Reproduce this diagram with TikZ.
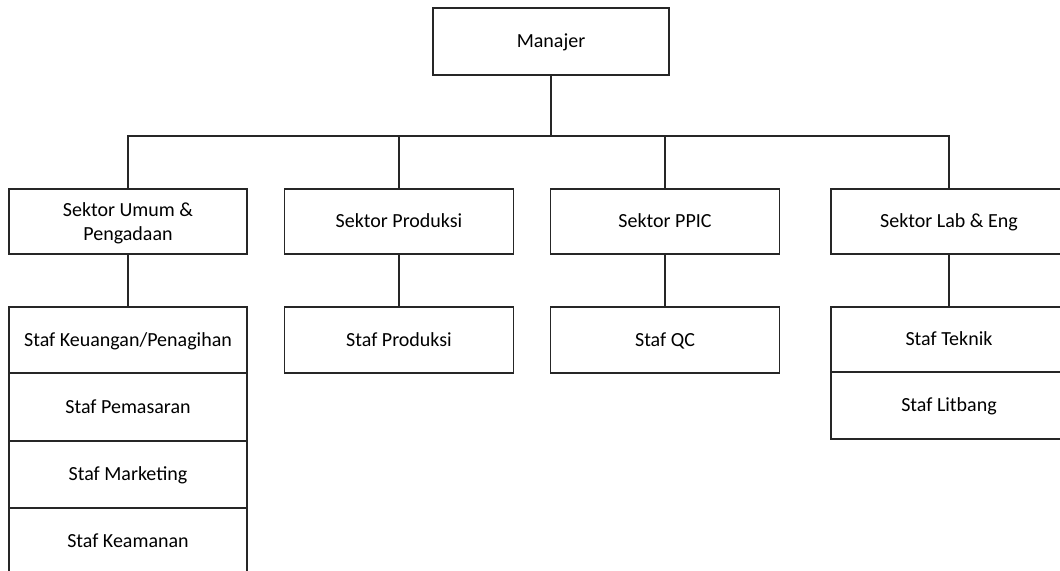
\documentclass[tikz,border=0pt]{standalone}
\usepackage{fontspec}
\setmainfont{Carlito}
\usetikzlibrary{positioning}

\begin{document}
\begin{tikzpicture}[x=0.75pt, y=-0.75pt]
    \tikzset{
      box/.style={
        rectangle, draw=black!85, line width=1pt,
        inner sep=0pt, align=center,
        font=\fontsize{15}{18}\selectfont
      },
      line1/.style={text height=12pt, text depth=2.3pt},
      link/.style={draw=black!85, line width=1pt}
    }

    \useasboundingbox (0,0) rectangle (1060,571);
    \clip (0,0) rectangle (1060,571);

    % Top
    \node[box, line1, minimum width=177pt, minimum height=50.25pt] (mgr) at (551,41.5) {Manajer};

    % Row 1
    \node[box, text height=30.8pt, text depth=3pt, minimum width=178.5pt, minimum height=48.75pt] (umum) at (128,221.5) {Sektor Umum \&\\Pengadaan};
    \node[box, line1, minimum width=171.75pt, minimum height=48.75pt] (prod) at (399,221.5) {Sektor Produksi};
    \node[box, line1, minimum width=171.75pt, minimum height=48.75pt] (ppic) at (665,221.5) {Sektor PPIC};
    \node[box, line1, minimum width=177pt, minimum height=48.75pt] (lab) at (949,221.5) {Sektor Lab \& Eng};

    % Row 2
    \node[box, line1, minimum width=178.5pt, minimum height=49.5pt] (keu) at (128,340) {Staf Keuangan/Penagihan};
    \node[box, line1, minimum width=178.5pt, minimum height=51pt] (pms) at (128,407) {Staf Pemasaran};
    \node[box, line1, minimum width=178.5pt, minimum height=50.25pt] (mkt) at (128,474.5) {Staf Marketing};
    \node[box, line1, minimum width=178.5pt, minimum height=50.25pt] (aman) at (128,541.5) {Staf Keamanan};
    \node[box, line1, minimum width=171.75pt, minimum height=49.5pt] (sprod) at (399,340) {Staf Produksi};
    \node[box, line1, minimum width=171.75pt, minimum height=49.5pt] (qc) at (665,340) {Staf QC};
    \node[box, line1, minimum width=177pt, minimum height=48.75pt] (tek) at (949,339.5) {Staf Teknik};
    \node[box, line1, minimum width=177pt, minimum height=50.25pt] (litb) at (949,405.5) {Staf Litbang};

    \coordinate (bus) at (551,136);
    \draw[link] (mgr) -- (bus);
    \foreach \s in {umum,prod,ppic,lab}
      \draw[link] (bus) -| (\s);

    \draw[link] (umum) -- (keu);
    \draw[link] (prod) -- (sprod);
    \draw[link] (ppic) -- (qc);
    \draw[link] (lab) -- (tek);
  \end{tikzpicture}
\end{document}
